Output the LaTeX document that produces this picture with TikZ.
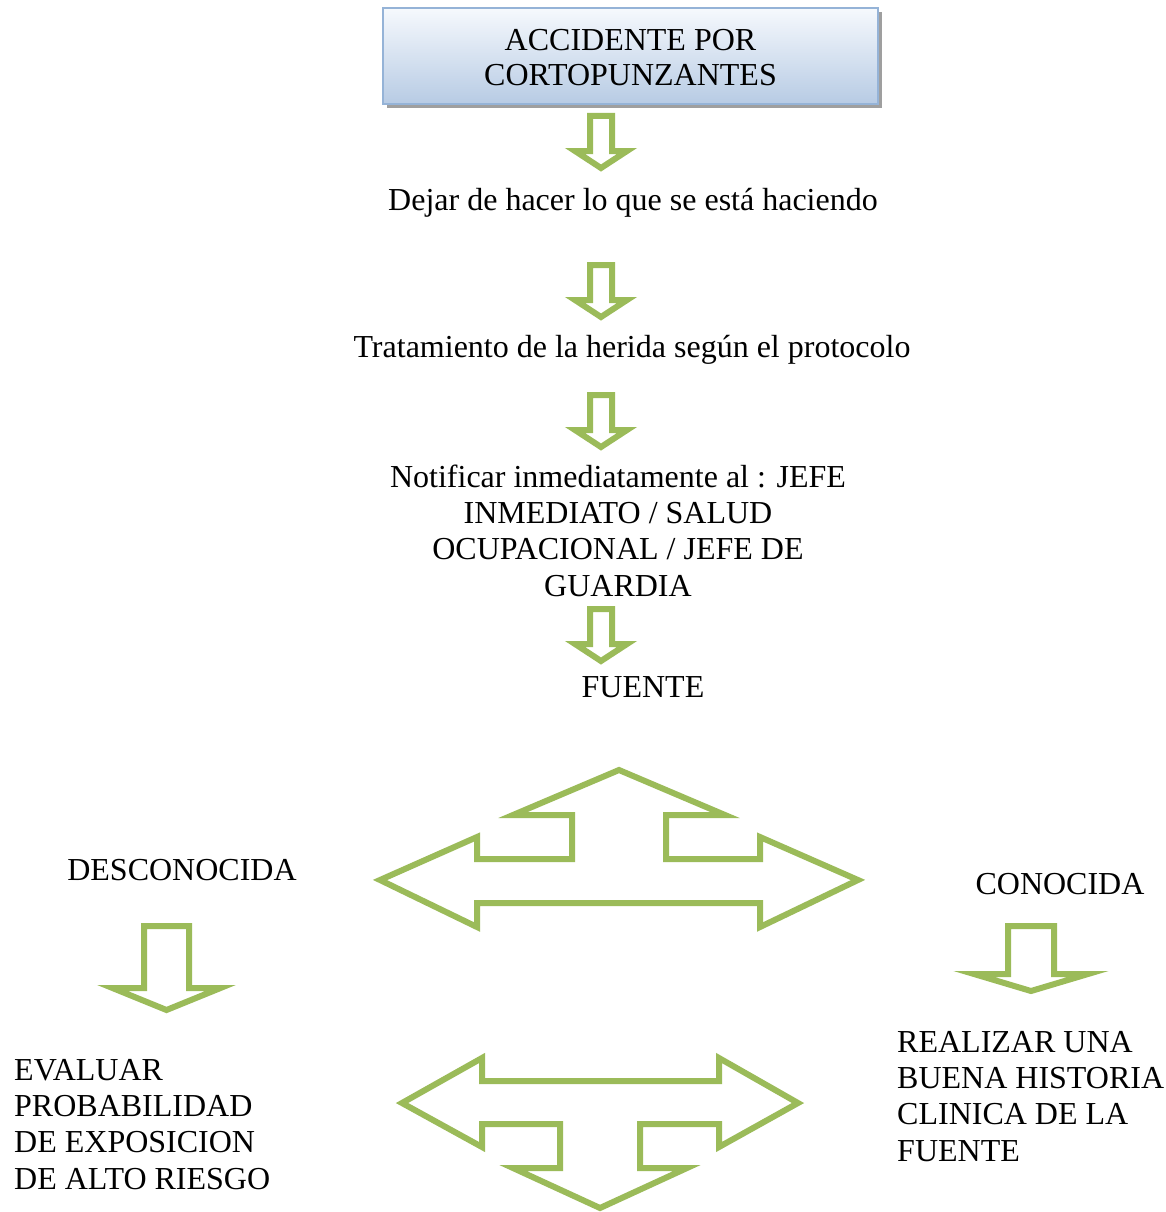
\documentclass[tikz,border=0pt]{standalone}
\usepackage{fontspec}
\setmainfont{Liberation Serif}
\definecolor{agreen}{RGB}{155,187,89}
\definecolor{boxtop}{RGB}{246,249,253}
\definecolor{boxbot}{RGB}{183,203,228}
\definecolor{boxline}{RGB}{149,179,215}
\tikzset{
  blockarrow/.style={draw=agreen, line width=6pt, line join=miter, fill=white},
  txt/.style={inner sep=0pt, font=\fontsize{32}{36.4}\selectfont},
  titlebox/.style={draw=boxline, line width=2.5pt, top color=boxtop, bottom color=boxbot,
     minimum width=495pt, minimum height=96pt, inner sep=0pt, align=center,
     font=\fontsize{32}{35}\selectfont}
}
\newcommand{\smalldown}[6]{% cx, top, head, tip, shaft hw, head hw
  \draw[blockarrow] ({#1-#5},#2) -- ({#1+#5},#2) -- ({#1+#5},#3) -- ({#1+#6},#3)
     -- (#1,#4) -- ({#1-#6},#3) -- ({#1-#5},#3) -- cycle;}
\begin{document}
\begin{tikzpicture}[x=1pt,y=-1pt]
\useasboundingbox (0,0) rectangle (1166,1212);
% title box with shadow
\fill[gray!75] (387,12) rectangle (882,108);
\node[titlebox] (title) at (630.5,56) {\strut ACCIDENTE POR\\CORTOPUNZANTES};
% small down arrows
\smalldown{601}{116}{151}{168}{11}{26}
\smalldown{601}{265}{300}{317}{11}{26}
\smalldown{601}{395}{430}{447}{11}{26}
\smalldown{601}{609}{644}{661}{11}{26}
% texts
\node[txt, anchor=base] (t1) at (633,210) {Dejar de hacer lo que se está haciendo};
\node[txt, anchor=base] (t2) at (632,357) {Tratamiento de la herida según el protocolo};
\node[txt, anchor=north, align=center] (t3) at (618,461.5)
  {\strut Notificar inmediatamente al : JEFE\\INMEDIATO / SALUD\\OCUPACIONAL / JEFE DE\\GUARDIA};
\node[txt, anchor=base] (fuente) at (643,697) {FUENTE};
\node[txt, anchor=base] (desc) at (182,880) {DESCONOCIDA};
\node[txt, anchor=base] (conoc) at (1060,894) {CONOCIDA};
\node[txt, anchor=north west, align=left] (eval) at (14,1054.5)
  {\strut EVALUAR\\PROBABILIDAD\\DE EXPOSICION\\DE ALTO RIESGO};
\node[txt, anchor=north west, align=left] (real) at (897,1026.5)
  {\strut REALIZAR UNA\\BUENA HISTORIA\\CLINICA DE LA\\FUENTE};
% big three-way arrow (up, left, right)
\draw[blockarrow] (380,880) -- (477,837) -- (477,859) -- (572,859) -- (572,815) -- (513,815)
  -- (619,770) -- (725,815) -- (666,815) -- (666,859) -- (760,859) -- (760,837) -- (858,880)
  -- (760,927) -- (760,903) -- (477,903) -- (477,927) -- cycle;
% side arrows
\smalldown{166.5}{926}{988}{1010}{22.5}{54}
\smalldown{1031}{926}{974}{991}{23}{57}
% big three-way arrow (left, right, down)
\draw[blockarrow] (402,1103) -- (482,1058) -- (482,1081) -- (719,1081) -- (719,1058) -- (798,1103)
  -- (719,1147) -- (719,1124) -- (640,1124) -- (640,1168) -- (687,1168) -- (600,1208)
  -- (513,1168) -- (560,1168) -- (560,1124) -- (482,1124) -- (482,1147) -- cycle;
\end{tikzpicture}
\end{document}
